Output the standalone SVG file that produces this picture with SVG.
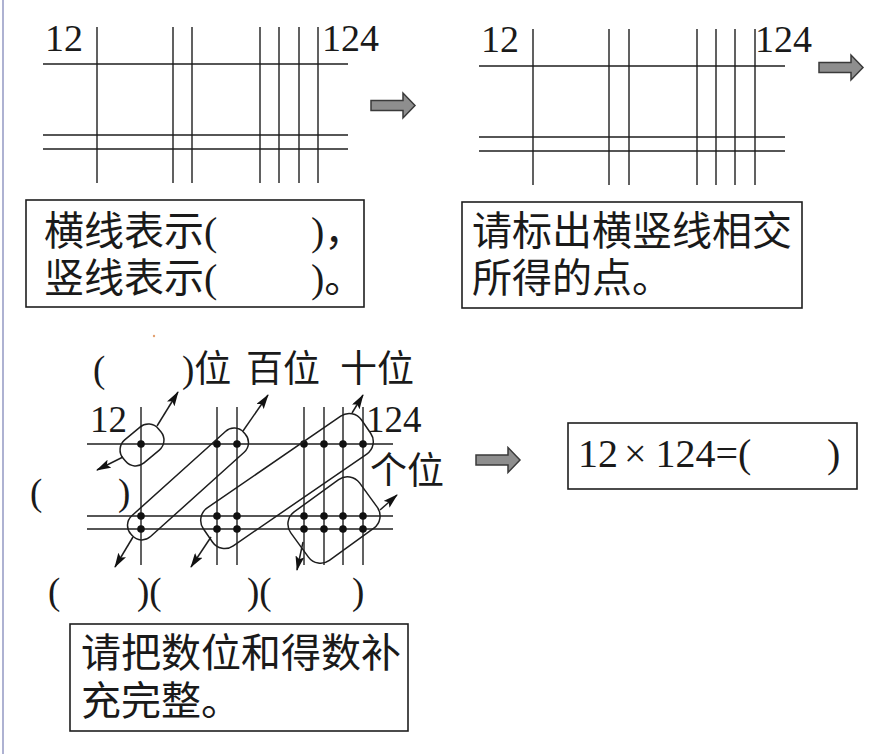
<svg xmlns="http://www.w3.org/2000/svg" xmlns:xlink="http://www.w3.org/1999/xlink" width="889" height="754" viewBox="0 0 889 754">
<style>
.g line{stroke:#1e1e1e;stroke-width:1.4}
.box{fill:none;stroke:#1e1e1e;stroke-width:1.6}
.t{font-family:"Liberation Serif","Noto Sans CJK SC",serif;fill:#1a1a1a}
.cn40{font-size:40px}
.n38{font-size:38px}
.l37{font-size:37px}
.grp{fill:none;stroke:#1e1e1e;stroke-width:1.5}
.dot{fill:#111}
.conn line{stroke:#1e1e1e;stroke-width:1.5;marker-end:url(#ah)}
.barrow{fill:#8e8e8e;stroke:#3a3a3a;stroke-width:1.5}
</style>
<defs>
<marker id="ah" viewBox="0 0 15 9" refX="14" refY="4.5" markerWidth="15" markerHeight="9" markerUnits="userSpaceOnUse" orient="auto">
<path d="M0,0 L15,4.5 L0,9 L3,4.5 Z" fill="#111"/>
</marker>
<path id="blockarrow" d="M0,-5 H32 V-12.5 L44,0 L32,12.5 V5 H0 Z"/>
</defs>
<rect width="889" height="754" fill="#ffffff"/>
<line x1="3" y1="0" x2="3" y2="754" stroke="#aeb2d2" stroke-width="2"/>
<circle cx="154" cy="336" r="1.2" fill="#e3a070"/>

<!-- Panel 1: grid -->
<g id="grid1" class="g">
<line x1="43" y1="64" x2="348" y2="64"/>
<line x1="43" y1="135" x2="348" y2="135"/>
<line x1="43" y1="149" x2="348" y2="149"/>
<line x1="97" y1="27" x2="97" y2="183"/>
<line x1="173" y1="27" x2="173" y2="183"/>
<line x1="192" y1="27" x2="192" y2="183"/>
<line x1="260" y1="27" x2="260" y2="183"/>
<line x1="279" y1="27" x2="279" y2="183"/>
<line x1="299" y1="27" x2="299" y2="183"/>
<line x1="318" y1="27" x2="318" y2="183"/>
<text class="t n38" x="45" y="51">12</text>
<text class="t n38" x="322" y="51">124</text>
</g>
<g id="box1">
<rect class="box" x="26" y="200" width="338" height="107"/>
<text class="t cn40" x="44" y="245">横线表示(<tspan x="311">)，</tspan></text>
<text class="t cn40" x="44" y="292">竖线表示(<tspan x="311">)。</tspan></text>
</g>

<!-- Panel 2: grid -->
<g id="grid2" class="g">
<line x1="479" y1="66" x2="785" y2="66"/>
<line x1="479" y1="137" x2="785" y2="137"/>
<line x1="479" y1="151" x2="785" y2="151"/>
<line x1="533" y1="29" x2="533" y2="185"/>
<line x1="609" y1="29" x2="609" y2="185"/>
<line x1="629" y1="29" x2="629" y2="185"/>
<line x1="697" y1="29" x2="697" y2="185"/>
<line x1="716" y1="29" x2="716" y2="185"/>
<line x1="735" y1="29" x2="735" y2="185"/>
<line x1="755" y1="29" x2="755" y2="185"/>
<text class="t n38" x="481" y="52">12</text>
<text class="t n38" x="755" y="52">124</text>
</g>
<g id="box2">
<rect class="box" x="462" y="202" width="340" height="106"/>
<text class="t cn40" x="472" y="245">请标出横竖线相交</text>
<text class="t cn40" x="472" y="292">所得的点。</text>
</g>

<!-- Panel 3: grid with groups -->
<g id="grid3" class="g">
<line x1="87" y1="444" x2="393" y2="444"/>
<line x1="87" y1="516" x2="393" y2="516"/>
<line x1="87" y1="529" x2="393" y2="529"/>
<line x1="141" y1="407" x2="141" y2="565"/>
<line x1="217" y1="407" x2="217" y2="565"/>
<line x1="237" y1="407" x2="237" y2="565"/>
<line x1="304" y1="407" x2="304" y2="565"/>
<line x1="324" y1="407" x2="324" y2="565"/>
<line x1="343" y1="407" x2="343" y2="565"/>
<line x1="363" y1="407" x2="363" y2="565"/>
<text class="t l37" x="90" y="432">12</text>
<text class="t l37" x="366" y="432">124</text>
</g>
<g id="dots">
<circle class="dot" cx="141" cy="444" r="3.8"/><circle class="dot" cx="217" cy="444" r="3.8"/><circle class="dot" cx="237" cy="444" r="3.8"/><circle class="dot" cx="304" cy="444" r="3.8"/><circle class="dot" cx="324" cy="444" r="3.8"/><circle class="dot" cx="343" cy="444" r="3.8"/><circle class="dot" cx="363" cy="444" r="3.8"/>
<circle class="dot" cx="141" cy="516" r="3.8"/><circle class="dot" cx="217" cy="516" r="3.8"/><circle class="dot" cx="237" cy="516" r="3.8"/><circle class="dot" cx="304" cy="516" r="3.8"/><circle class="dot" cx="324" cy="516" r="3.8"/><circle class="dot" cx="343" cy="516" r="3.8"/><circle class="dot" cx="363" cy="516" r="3.8"/>
<circle class="dot" cx="141" cy="529" r="3.8"/><circle class="dot" cx="217" cy="529" r="3.8"/><circle class="dot" cx="237" cy="529" r="3.8"/><circle class="dot" cx="304" cy="529" r="3.8"/><circle class="dot" cx="324" cy="529" r="3.8"/><circle class="dot" cx="343" cy="529" r="3.8"/><circle class="dot" cx="363" cy="529" r="3.8"/>
</g>
<g id="group-thousands"><rect class="grp" x="-23" y="-15" width="46" height="30" rx="13" transform="translate(142,445) rotate(-40)"/></g>
<g id="group-hundreds"><rect class="grp" x="-76" y="-14" width="152" height="28" rx="13" transform="translate(188,484) rotate(-42)"/></g>
<g id="group-tens"><rect class="grp" x="-96" y="-23" width="192" height="46" rx="15" transform="translate(287,481) rotate(-34.5)"/></g>
<g id="group-ones"><rect class="grp" x="-42.5" y="-30" width="85" height="60" rx="15" transform="translate(334,520) rotate(-36)"/></g>

<g id="labels3">
<text class="t l37" x="93" y="382">(<tspan x="182">)位</tspan></text>
<text class="t l37" x="246" y="382">百位</text>
<text class="t l37" x="340" y="382">十位</text>
<text class="t l37" x="370" y="484">个位</text>
<text class="t l37" x="30" y="505">(<tspan x="118">)</tspan></text>
<text class="t l37" x="48" y="604">(<tspan x="137">)(</tspan><tspan x="247">)(</tspan><tspan x="352">)</tspan></text>
</g>

<g id="box4">
<rect class="box" x="70" y="624" width="338" height="107"/>
<text class="t cn40" x="81" y="667">请把数位和得数补</text>
<text class="t cn40" x="81" y="715">充完整。</text>
</g>

<g id="box3">
<rect class="box" x="568" y="423" width="289" height="66"/>
<text class="t" style="font-size:40px" x="578" y="467">12<tspan x="624">×</tspan><tspan x="655.5">124=(</tspan><tspan x="827">)</tspan></text>
</g>

<g id="connectors">
<g class="conn">
<line x1="157" y1="426" x2="178" y2="392"/>
<line x1="123" y1="457" x2="97" y2="470"/>
<line x1="243" y1="431" x2="268" y2="395"/>
<line x1="133" y1="537" x2="115" y2="567"/>
<line x1="352" y1="413" x2="363" y2="395"/>
<line x1="211" y1="537" x2="191" y2="567"/>
<line x1="380" y1="510" x2="397" y2="495"/>
<line x1="303" y1="542" x2="297" y2="570"/>
</g>
<use href="#blockarrow" xlink:href="#blockarrow" class="barrow" x="371" y="105.5"/>
<use href="#blockarrow" xlink:href="#blockarrow" class="barrow" x="819" y="67.5"/>
<use href="#blockarrow" xlink:href="#blockarrow" class="barrow" x="476" y="460"/>
</g>
</svg>
